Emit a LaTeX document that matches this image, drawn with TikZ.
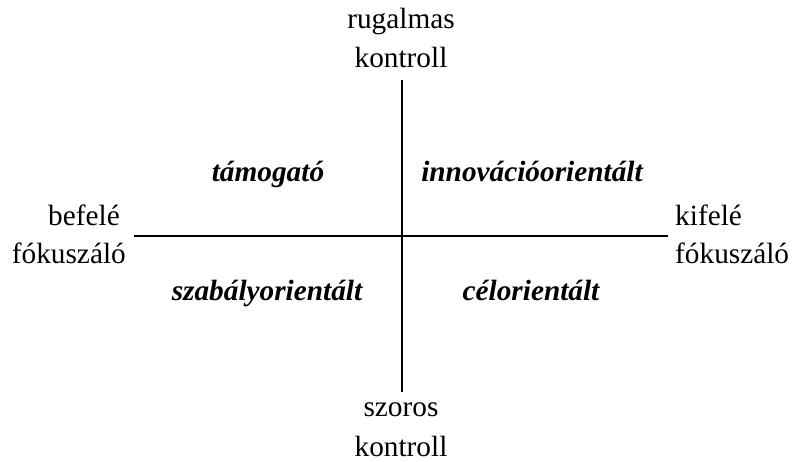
\documentclass[tikz,border=0pt]{standalone}
\usepackage{fontspec}
\setmainfont{Liberation Serif}
\begin{document}
\begin{tikzpicture}[x=1pt,y=-1pt,
  lbl/.style={font=\fontsize{29.3}{35}\selectfont, inner sep=0pt, anchor=base},
  quad/.style={lbl, font=\fontsize{29.3}{35}\selectfont\bfseries\itshape},
  axis/.style={line width=1.7pt, black}]
\useasboundingbox (0,0) rectangle (793,462);
% axis end points
\coordinate (top) at (402,80);
\coordinate (bottom) at (402,392);
\coordinate (left) at (134,236);
\coordinate (right) at (668,236);
\draw[axis] (top) -- (bottom);
\draw[axis] (left) -- (right);
% axis labels
\node[lbl] (t1) at (401,29) {rugalmas};
\node[lbl] (t2) at (401,68) {kontroll};
\node[lbl] (b1) at (401,417) {szoros};
\node[lbl] (b2) at (401,456) {kontroll};
\node[lbl, anchor=base east] (l1) at (120,226) {befelé};
\node[lbl, anchor=base east] (l2) at (126,264) {fókuszáló};
\node[lbl, anchor=base west] (r1) at (675,226) {kifelé};
\node[lbl, anchor=base west] (r2) at (675,264) {fókuszáló};
% quadrant labels
\node[quad] (q1) at (268,182) {támogató};
\node[quad] (q2) at (532,182) {innovációorientált};
\node[quad] (q3) at (267,301) {szabályorientált};
\node[quad] (q4) at (531,301) {célorientált};
\end{tikzpicture}
\end{document}
